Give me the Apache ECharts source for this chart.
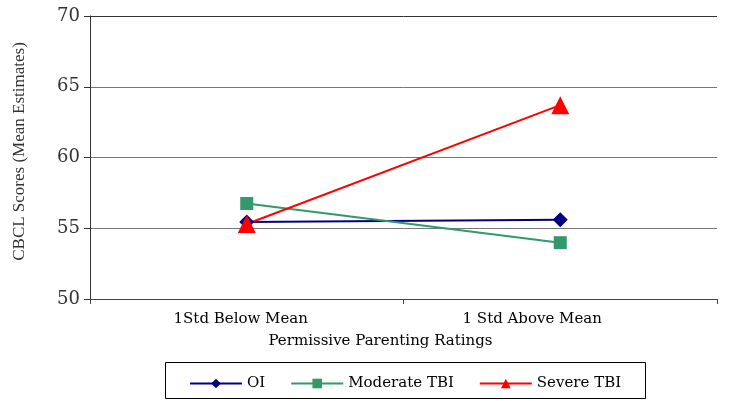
<!DOCTYPE html>
<html><head><meta charset="utf-8">
<script src="https://cdn.jsdelivr.net/npm/echarts@6/dist/echarts.min.js"></script>
<style>html,body{margin:0;padding:0;background:#fff}#c{width:729px;height:409px}</style>
</head><body><div id="c"></div>
<script>
var categories = ['1Std Below Mean', '1 Std Above Mean'];
var oi = [55.45, 55.6];
var moderate = [56.75, 53.98];
var severe = [55.3, 63.7];
var yTicks = [50, 55, 60, 65, 70];

var font = 'Liberation Serif';
var wide = 'DejaVu Serif';
var chart = echarts.init(document.getElementById('c'));
chart.setOption({
  animation: false,
  backgroundColor: '#fff',
  grid: {left: 90, right: 12, top: 16, bottom: 110},
  graphic: [{type: 'rect', shape: {x: 165.5, y: 362.5, width: 480, height: 36}, style: {fill: 'none', stroke: '#000', lineWidth: 1}}],
  legend: {
    left: 184, top: 371, itemGap: 25, itemWidth: 52, itemHeight: 12,
    textStyle: {fontFamily: wide, fontSize: 15, color: '#000'},
    data: ['OI', 'Moderate TBI', 'Severe TBI']
  },
  xAxis: {
    type: 'category', data: categories, boundaryGap: true,
    name: 'Permissive Parenting Ratings', nameLocation: 'middle', nameGap: 35,
    nameTextStyle: {fontFamily: wide, fontSize: 15, color: '#000', padding: [0, 46, 0, 0]},
    axisLine: {lineStyle: {color: '#444', width: 1}},
    axisTick: {show: true, length: 5, lineStyle: {color: '#444'}},
    axisLabel: {fontFamily: wide, fontSize: 15, color: '#000', margin: 13,
      formatter: function (v, i) { return i === 0 ? '{a|' + v + '}' : '{b|' + v + '}'; },
      rich: {a: {fontFamily: wide, fontSize: 15, color: '#000', padding: [0, 12, 0, 0]},
             b: {fontFamily: wide, fontSize: 15, color: '#000', padding: [0, 56, 0, 0]}}}
  },
  yAxis: {
    type: 'value', min: yTicks[0], max: yTicks[yTicks.length - 1], interval: 5,
    name: 'CBCL Scores (Mean Estimates)', nameLocation: 'middle', nameRotate: 90, nameGap: 62,
    nameTextStyle: {fontFamily: font, fontSize: 17, color: '#333', padding: [0, 0, 0, 12]},
    axisLine: {show: true, lineStyle: {color: '#333', width: 1}},
    axisTick: {show: true, length: 6, lineStyle: {color: '#333'}},
    axisLabel: {fontFamily: wide, fontSize: 18, color: '#333', margin: 10},
    splitLine: {show: true, lineStyle: {color: ['#777', '#777', '#777', '#777', '#333'], width: 1}}
  },
  series: [
    {name: 'OI', type: 'line', data: oi, symbol: 'diamond', symbolSize: 15,
     itemStyle: {color: '#000080'}, lineStyle: {color: '#000080', width: 2}},
    {name: 'Moderate TBI', type: 'line', data: moderate, symbol: 'rect', symbolSize: 13,
     itemStyle: {color: '#33996a'}, lineStyle: {color: '#33996a', width: 2}},
    {name: 'Severe TBI', type: 'line', data: severe, symbol: 'triangle', symbolSize: 18,
     itemStyle: {color: '#ff0000'}, lineStyle: {color: '#ff0000', width: 2}}
  ]
});
</script></body></html>
